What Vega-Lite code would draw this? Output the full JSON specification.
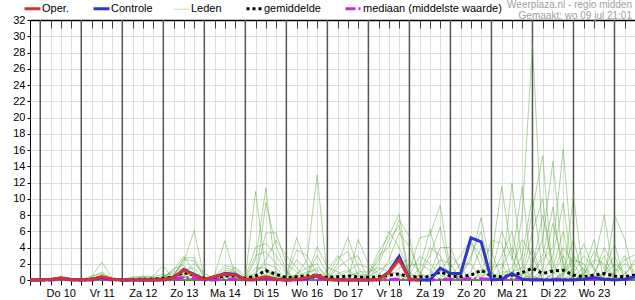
{
"$schema": "https://vega.github.io/schema/vega-lite/v6.json",
"width": 605, "height": 260,
"autosize": {"type": "none"},
"padding": {"left": 30, "top": 20, "right": 0, "bottom": 20},
"background": "white",
"config": {"font": "Liberation Sans", "view": {"stroke": null}},
"title": {"text": "Weerplaza.nl - regio midden", "subtitle": "Gemaakt: wo 09 jul 21:01", "anchor": "end", "frame": "group", "orient": "top", "fontSize": 10, "subtitleFontSize": 10, "lineHeight": 10, "subtitleLineHeight": 10, "color": "#a0a0a0", "subtitleColor": "#a0a0a0", "fontWeight": "normal", "font": "Liberation Sans", "subtitleFont": "Liberation Sans", "offset": -17.5, "subtitlePadding": 0.5, "dx": -3},
"datasets": {
"days": [{"t":6},{"t":30},{"t":54},{"t":78},{"t":102},{"t":126},{"t":150},{"t":174},{"t":198},{"t":222},{"t":246},{"t":270},{"t":294},{"t":318},{"t":342}],
"ens": [
{"t":0,"o":0,"c":0,"g":0.02,"md":0,"L1":0,"L2":0,"L3":0,"L4":0,"L5":0.1,"L6":0,"L7":0,"L8":0,"L9":0,"L10":0,"L11":0,"L12":0.1,"L13":0,"L14":0,"L15":0,"L16":0,"L17":0,"L18":0,"L19":0,"L20":0,"L21":0,"L22":0,"L23":0,"L24":0},
{"t":6,"o":0,"c":0,"g":0.02,"md":0,"L1":0,"L2":0,"L3":0.1,"L4":0,"L5":0,"L6":0,"L7":0,"L8":0,"L9":0,"L10":0,"L11":0,"L12":0,"L13":0,"L14":0,"L15":0,"L16":0,"L17":0.2,"L18":0,"L19":0,"L20":0,"L21":0,"L22":0,"L23":0,"L24":0},
{"t":12,"o":0.05,"c":0.05,"g":0.05,"md":0,"L1":0.1,"L2":0,"L3":0,"L4":0,"L5":0,"L6":0,"L7":0,"L8":0.2,"L9":0,"L10":0,"L11":0,"L12":0,"L13":0,"L14":0,"L15":0,"L16":0,"L17":0,"L18":0,"L19":0,"L20":0.1,"L21":0,"L22":0,"L23":0,"L24":0},
{"t":18,"o":0.25,"c":0.2,"g":0.15,"md":0.1,"L1":0.3,"L2":0.2,"L3":0,"L4":0,"L5":0,"L6":0.4,"L7":0,"L8":0,"L9":0.3,"L10":0,"L11":0,"L12":0,"L13":0,"L14":0.2,"L15":0,"L16":0,"L17":0,"L18":0,"L19":0.5,"L20":0,"L21":0,"L22":0.2,"L23":0,"L24":0},
{"t":24,"o":0.05,"c":0.05,"g":0.05,"md":0,"L1":0,"L2":0,"L3":0,"L4":0,"L5":0,"L6":0.1,"L7":0,"L8":0,"L9":0,"L10":0.1,"L11":0,"L12":0,"L13":0,"L14":0,"L15":0,"L16":0,"L17":0,"L18":0,"L19":0.2,"L20":0,"L21":0,"L22":0,"L23":0,"L24":0},
{"t":30,"o":0,"c":0,"g":0.02,"md":0,"L1":0,"L2":0,"L3":0,"L4":0,"L5":0,"L6":0,"L7":0,"L8":0,"L9":0,"L10":0,"L11":0.1,"L12":0,"L13":0,"L14":0,"L15":0,"L16":0,"L17":0,"L18":0,"L19":0,"L20":0,"L21":0,"L22":0,"L23":0,"L24":0},
{"t":36,"o":0.1,"c":0.1,"g":0.1,"md":0,"L1":0.4,"L2":0,"L3":0,"L4":0.3,"L5":0,"L6":0,"L7":0,"L8":0,"L9":0,"L10":0,"L11":0,"L12":0,"L13":0,"L14":0,"L15":0,"L16":0.5,"L17":0,"L18":0,"L19":0,"L20":0,"L21":0.2,"L22":0,"L23":0,"L24":0},
{"t":42,"o":0.4,"c":0.3,"g":0.3,"md":0.1,"L1":2.2,"L2":0.2,"L3":0,"L4":1,"L5":0,"L6":0,"L7":0.7,"L8":0,"L9":0.3,"L10":0,"L11":0,"L12":0,"L13":0.6,"L14":0,"L15":0,"L16":0.8,"L17":0,"L18":0,"L19":0,"L20":0,"L21":0.5,"L22":0,"L23":0,"L24":0.4},
{"t":48,"o":0.1,"c":0.1,"g":0.1,"md":0,"L1":0.3,"L2":0,"L3":0,"L4":0.2,"L5":0,"L6":0,"L7":0.2,"L8":0,"L9":0,"L10":0,"L11":0,"L12":0,"L13":0,"L14":0,"L15":0,"L16":0.1,"L17":0,"L18":0,"L19":0,"L20":0,"L21":0,"L22":0,"L23":0,"L24":0},
{"t":54,"o":0,"c":0,"g":0.02,"md":0,"L1":0,"L2":0,"L3":0,"L4":0,"L5":0,"L6":0,"L7":0,"L8":0,"L9":0,"L10":0,"L11":0,"L12":0,"L13":0,"L14":0,"L15":0,"L16":0,"L17":0,"L18":0.1,"L19":0,"L20":0,"L21":0,"L22":0,"L23":0,"L24":0},
{"t":60,"o":0,"c":0,"g":0.05,"md":0,"L1":0,"L2":0,"L3":0,"L4":0,"L5":0.2,"L6":0,"L7":0,"L8":0,"L9":0,"L10":0,"L11":0,"L12":0.3,"L13":0,"L14":0,"L15":0,"L16":0,"L17":0,"L18":0,"L19":0,"L20":0.4,"L21":0,"L22":0,"L23":0,"L24":0},
{"t":66,"o":0,"c":0,"g":0.1,"md":0,"L1":0,"L2":0,"L3":0,"L4":0,"L5":0,"L6":0,"L7":0,"L8":0,"L9":0,"L10":0,"L11":0,"L12":0.5,"L13":0,"L14":0,"L15":0.4,"L16":0,"L17":0,"L18":0,"L19":0,"L20":0.3,"L21":0,"L22":0,"L23":0.2,"L24":0},
{"t":72,"o":0,"c":0,"g":0.1,"md":0,"L1":0,"L2":0,"L3":0.4,"L4":0,"L5":0,"L6":0,"L7":0,"L8":0.2,"L9":0,"L10":0,"L11":0,"L12":0.3,"L13":0,"L14":0,"L15":0.5,"L16":0,"L17":0,"L18":0,"L19":0,"L20":0,"L21":0,"L22":0,"L23":0.3,"L24":0},
{"t":78,"o":0.05,"c":0.05,"g":0.2,"md":0,"L1":0,"L2":0,"L3":0.7,"L4":0,"L5":0,"L6":0,"L7":0,"L8":0.4,"L9":0,"L10":0,"L11":0,"L12":0,"L13":0.3,"L14":0,"L15":1.8,"L16":0,"L17":0,"L18":0.2,"L19":0,"L20":0,"L21":0,"L22":0.5,"L23":0,"L24":0},
{"t":84,"o":0.3,"c":0.3,"g":0.4,"md":0.05,"L1":0,"L2":0.5,"L3":0,"L4":0,"L5":0,"L6":0.4,"L7":0,"L8":0.8,"L9":0,"L10":0,"L11":0.6,"L12":0,"L13":1.2,"L14":0,"L15":0,"L16":0,"L17":0,"L18":1.4,"L19":0.3,"L20":0,"L21":0,"L22":1,"L23":0,"L24":0},
{"t":90,"o":1.2,"c":1.3,"g":0.9,"md":0.3,"L1":0.3,"L2":2.2,"L3":0.6,"L4":0,"L5":0,"L6":2.7,"L7":0,"L8":0,"L9":1,"L10":0,"L11":2.5,"L12":0,"L13":2.9,"L14":0.8,"L15":0.4,"L16":0,"L17":0,"L18":1.8,"L19":0,"L20":0.5,"L21":0,"L22":1.5,"L23":0,"L24":1.2},
{"t":96,"o":0.6,"c":0.7,"g":0.6,"md":0.2,"L1":0,"L2":6.1,"L3":0,"L4":0,"L5":0,"L6":2.8,"L7":0,"L8":0,"L9":2,"L10":0,"L11":2.4,"L12":0,"L13":1,"L14":0.4,"L15":0,"L16":0,"L17":0,"L18":0.3,"L19":0,"L20":0,"L21":0,"L22":0.5,"L23":0,"L24":1.5},
{"t":102,"o":0.05,"c":0.05,"g":0.2,"md":0,"L1":0,"L2":0.3,"L3":0,"L4":0,"L5":0.3,"L6":0.4,"L7":0,"L8":0,"L9":0.8,"L10":0,"L11":0.2,"L12":0,"L13":0,"L14":0,"L15":0,"L16":0,"L17":0,"L18":0,"L19":0,"L20":0,"L21":0,"L22":0,"L23":0,"L24":0},
{"t":108,"o":0.4,"c":0.4,"g":0.2,"md":0,"L1":0,"L2":0,"L3":0.6,"L4":0,"L5":0.5,"L6":0,"L7":0,"L8":0,"L9":0.2,"L10":0,"L11":0,"L12":0,"L13":0,"L14":0,"L15":0,"L16":0,"L17":0.3,"L18":0,"L19":0,"L20":0.2,"L21":0,"L22":0,"L23":0,"L24":0},
{"t":114,"o":0.7,"c":0.8,"g":0.5,"md":0.1,"L1":0,"L2":0,"L3":4.85,"L4":0,"L5":1.8,"L6":0,"L7":0.5,"L8":0,"L9":0,"L10":1.2,"L11":0,"L12":0,"L13":0,"L14":0.8,"L15":0,"L16":0,"L17":1.5,"L18":0,"L19":0,"L20":1,"L21":0,"L22":0,"L23":0.4,"L24":0},
{"t":120,"o":0.6,"c":0.7,"g":0.5,"md":0.05,"L1":0,"L2":0,"L3":0.6,"L4":0,"L5":1.5,"L6":0,"L7":0.3,"L8":0,"L9":0,"L10":1,"L11":0,"L12":0,"L13":0,"L14":0,"L15":0,"L16":0,"L17":1.2,"L18":0,"L19":0,"L20":0.8,"L21":0,"L22":0,"L23":1.6,"L24":0},
{"t":126,"o":0.05,"c":0.05,"g":0.2,"md":0,"L1":0.3,"L2":0,"L3":0,"L4":0,"L5":0.2,"L6":0,"L7":0,"L8":0,"L9":0,"L10":0,"L11":0,"L12":0.2,"L13":0,"L14":0,"L15":0,"L16":0.4,"L17":0,"L18":0,"L19":0,"L20":0,"L21":0,"L22":0,"L23":0.5,"L24":0},
{"t":132,"o":0.1,"c":0.1,"g":0.5,"md":0,"L1":10.9,"L2":0,"L3":2.5,"L4":0,"L5":0,"L6":0.6,"L7":0,"L8":1,"L9":0,"L10":0,"L11":0,"L12":3,"L13":0,"L14":0.5,"L15":0,"L16":4,"L17":0,"L18":0,"L19":1.5,"L20":0,"L21":0.8,"L22":0,"L23":0,"L24":0.4},
{"t":138,"o":0.4,"c":0.3,"g":1.15,"md":0.1,"L1":1,"L2":0,"L3":11.3,"L4":9.5,"L5":0,"L6":1.2,"L7":0,"L8":2,"L9":0,"L10":0.8,"L11":0,"L12":3.5,"L13":0,"L14":5.8,"L15":0,"L16":4.5,"L17":0.5,"L18":0,"L19":1.5,"L20":0,"L21":2.5,"L22":0,"L23":0,"L24":0.6},
{"t":144,"o":0.1,"c":0.1,"g":0.7,"md":0,"L1":0.8,"L2":0,"L3":0.4,"L4":4.2,"L5":0,"L6":1,"L7":0,"L8":1.5,"L9":0,"L10":0.5,"L11":0,"L12":2,"L13":0,"L14":5.8,"L15":0,"L16":3,"L17":0,"L18":0,"L19":0,"L20":0,"L21":4.9,"L22":0,"L23":0,"L24":0.3},
{"t":150,"o":0,"c":0,"g":0.3,"md":0,"L1":0,"L2":0,"L3":0,"L4":1.2,"L5":0,"L6":0,"L7":0,"L8":0,"L9":0.5,"L10":0,"L11":0.6,"L12":0.8,"L13":0,"L14":2,"L15":0,"L16":1,"L17":0,"L18":0,"L19":0,"L20":0,"L21":3,"L22":0.3,"L23":0,"L24":0},
{"t":156,"o":0.05,"c":0.05,"g":0.4,"md":0,"L1":0,"L2":0.6,"L3":0,"L4":0,"L5":0.5,"L6":0,"L7":0,"L8":0,"L9":3.7,"L10":0,"L11":5.2,"L12":0,"L13":0.4,"L14":1,"L15":0,"L16":0,"L17":0.8,"L18":0,"L19":0,"L20":0,"L21":1.5,"L22":2.5,"L23":0,"L24":0},
{"t":162,"o":0.3,"c":0.2,"g":0.5,"md":0.05,"L1":0,"L2":2.5,"L3":0,"L4":0,"L5":1,"L6":0,"L7":0.4,"L8":0,"L9":3,"L10":0,"L11":2,"L12":0,"L13":0.8,"L14":0,"L15":0,"L16":0,"L17":1.5,"L18":0,"L19":0,"L20":0.6,"L21":0,"L22":1.2,"L23":0,"L24":0},
{"t":168,"o":0.6,"c":0.5,"g":0.6,"md":0.1,"L1":0,"L2":12.9,"L3":0,"L4":0,"L5":1.2,"L6":0,"L7":4.1,"L8":0,"L9":0.8,"L10":0,"L11":0.5,"L12":0,"L13":1.5,"L14":0,"L15":0,"L16":0,"L17":2,"L18":0,"L19":0,"L20":3,"L21":0,"L22":0.4,"L23":0,"L24":0},
{"t":174,"o":0.05,"c":0.05,"g":0.3,"md":0.05,"L1":0,"L2":0.3,"L3":0,"L4":0,"L5":0,"L6":0,"L7":1.6,"L8":0,"L9":0,"L10":0,"L11":0,"L12":0,"L13":0.5,"L14":0,"L15":0,"L16":0,"L17":0,"L18":0.4,"L19":0,"L20":0.8,"L21":0,"L22":0,"L23":1.2,"L24":0},
{"t":180,"o":0,"c":0,"g":0.4,"md":0.05,"L1":0.8,"L2":0,"L3":0,"L4":0,"L5":0,"L6":0,"L7":1,"L8":0,"L9":0,"L10":0,"L11":2,"L12":0,"L13":0,"L14":0,"L15":1.5,"L16":0,"L17":0,"L18":2.7,"L19":0,"L20":0,"L21":0,"L22":0,"L23":3,"L24":0.5},
{"t":186,"o":0,"c":0,"g":0.5,"md":0.05,"L1":1.2,"L2":0,"L3":0,"L4":0,"L5":0,"L6":0.6,"L7":0,"L8":0,"L9":0,"L10":0,"L11":5.25,"L12":0,"L13":0,"L14":0,"L15":2.5,"L16":0,"L17":0,"L18":3.5,"L19":0.4,"L20":0,"L21":0,"L22":0,"L23":1.5,"L24":1},
{"t":192,"o":0,"c":0,"g":0.4,"md":0.05,"L1":0,"L2":0,"L3":0.4,"L4":0,"L5":0,"L6":0.8,"L7":0,"L8":0,"L9":0,"L10":0,"L11":1.5,"L12":5,"L13":0,"L14":0,"L15":3,"L16":0,"L17":0,"L18":0.6,"L19":1,"L20":0,"L21":0,"L22":0,"L23":0,"L24":2},
{"t":198,"o":0,"c":0,"g":0.3,"md":0,"L1":0,"L2":0,"L3":0,"L4":0,"L5":0.8,"L6":0.5,"L7":0,"L8":0.4,"L9":0,"L10":0,"L11":0,"L12":2,"L13":0.6,"L14":0,"L15":0,"L16":0,"L17":0,"L18":0,"L19":1,"L20":0,"L21":0,"L22":0,"L23":0,"L24":1.5},
{"t":204,"o":0.1,"c":0.1,"g":0.4,"md":0,"L1":0,"L2":0,"L3":0,"L4":0,"L5":3.5,"L6":3,"L7":2,"L8":1.2,"L9":0,"L10":0,"L11":0,"L12":0.8,"L13":2.5,"L14":0,"L15":0,"L16":0.5,"L17":0,"L18":0,"L19":1.5,"L20":0,"L21":0,"L22":0,"L23":0,"L24":0.6},
{"t":210,"o":0.9,"c":1,"g":0.6,"md":0.05,"L1":0,"L2":0,"L3":0,"L4":0,"L5":5.5,"L6":4,"L7":5,"L8":2,"L9":0,"L10":0.4,"L11":0,"L12":0,"L13":6,"L14":0,"L15":0,"L16":2.5,"L17":0,"L18":0,"L19":1,"L20":0,"L21":0,"L22":0.6,"L23":0,"L24":0},
{"t":216,"o":2.5,"c":2.9,"g":0.75,"md":0.1,"L1":0.5,"L2":0,"L3":0,"L4":0,"L5":8.1,"L6":7.4,"L7":6.7,"L8":3,"L9":0,"L10":1.5,"L11":0,"L12":0,"L13":4,"L14":0,"L15":0,"L16":5.8,"L17":0,"L18":0,"L19":0.8,"L20":0,"L21":0,"L22":2,"L23":0,"L24":0},
{"t":222,"o":0.1,"c":0.1,"g":0.4,"md":0,"L1":0.4,"L2":0,"L3":0,"L4":1.2,"L5":0,"L6":5.3,"L7":0,"L8":0.8,"L9":0,"L10":1.8,"L11":0,"L12":0,"L13":1,"L14":0,"L15":0,"L16":4.1,"L17":0,"L18":0,"L19":0,"L20":0.6,"L21":0,"L22":2.5,"L23":0,"L24":0},
{"t":228,"o":0,"c":0,"g":0.4,"md":0,"L1":0,"L2":0.5,"L3":0,"L4":5.2,"L5":0,"L6":0,"L7":0,"L8":0,"L9":0.6,"L10":2,"L11":0,"L12":0,"L13":0,"L14":1.5,"L15":0,"L16":0.8,"L17":0,"L18":0,"L19":0,"L20":2.9,"L21":0,"L22":1,"L23":0,"L24":0},
{"t":234,"c":0,"g":0.4,"md":0,"L1":0,"L2":3,"L3":0,"L4":5.5,"L5":0,"L6":0,"L7":0,"L8":0,"L9":4,"L10":1.2,"L11":0,"L12":0,"L13":0,"L14":6.2,"L15":0,"L16":0,"L17":0.8,"L18":0,"L19":0,"L20":2,"L21":0,"L22":0,"L23":0.5,"L24":0},
{"t":240,"c":1.45,"g":1,"md":0.05,"L1":0,"L2":6.5,"L3":0,"L4":9.2,"L5":0,"L6":0,"L7":0,"L8":0,"L9":3,"L10":0,"L11":1,"L12":0,"L13":0,"L14":1.5,"L15":0,"L16":0,"L17":4,"L18":0,"L19":0,"L20":0.6,"L21":0,"L22":0,"L23":2.5,"L24":0},
{"t":246,"c":0.8,"g":0.5,"md":0.05,"L1":0,"L2":0.8,"L3":0,"L4":1,"L5":0,"L6":0,"L7":0,"L8":0,"L9":0,"L10":0,"L11":3,"L12":0,"L13":0,"L14":0,"L15":1.5,"L16":0,"L17":4,"L18":0,"L19":0,"L20":0,"L21":0.5,"L22":0,"L23":2,"L24":0},
{"t":252,"c":0.8,"g":0.4,"md":0.1,"L1":0,"L2":0,"L3":0.8,"L4":0,"L5":0,"L6":0,"L7":0,"L8":0,"L9":0,"L10":0,"L11":1.5,"L12":0.5,"L13":0,"L14":0,"L15":3,"L16":0,"L17":1,"L18":0,"L19":0,"L20":0,"L21":2,"L22":0,"L23":0,"L24":0.6},
{"t":258,"c":5.2,"g":0.6,"md":0.15,"L1":0.6,"L2":0,"L3":4.5,"L4":0,"L5":0,"L6":0,"L7":0,"L8":0,"L9":0,"L10":0,"L11":0,"L12":2.5,"L13":0,"L14":0,"L15":5,"L16":0,"L17":0,"L18":1,"L19":0,"L20":0,"L21":2,"L22":0,"L23":0,"L24":3},
{"t":264,"c":4.7,"g":1.2,"md":0.15,"L1":1.2,"L2":0,"L3":3,"L4":0,"L5":0,"L6":0,"L7":0,"L8":0,"L9":0,"L10":0.5,"L11":0,"L12":7.7,"L13":0,"L14":0,"L15":1.5,"L16":0,"L17":0,"L18":4,"L19":0.8,"L20":0,"L21":0,"L22":0,"L23":0,"L24":6},
{"t":270,"c":0,"g":0.5,"md":0.05,"L1":1.5,"L2":0,"L3":0,"L4":0,"L5":0,"L6":0,"L7":0,"L8":2.5,"L9":0,"L10":0.8,"L11":0,"L12":1,"L13":0,"L14":0,"L15":0,"L16":0,"L17":0,"L18":3.5,"L19":4.9,"L20":0.5,"L21":0,"L22":0,"L23":0,"L24":0},
{"t":276,"c":0.1,"g":0.4,"md":0.05,"L1":2,"L2":0,"L3":0,"L4":0,"L5":0,"L6":1,"L7":0,"L8":11.5,"L9":0,"L10":6,"L11":0,"L12":0,"L13":1.5,"L14":0,"L15":0,"L16":0,"L17":0,"L18":0,"L19":4.5,"L20":3,"L21":0,"L22":0.6,"L23":0,"L24":0},
{"t":282,"c":0.8,"g":0.6,"md":0.05,"L1":0,"L2":0,"L3":0,"L4":0,"L5":0,"L6":1,"L7":0,"L8":3,"L9":11.9,"L10":2.5,"L11":0,"L12":0,"L13":4,"L14":0,"L15":0,"L16":0.8,"L17":0,"L18":0,"L19":0,"L20":6,"L21":0,"L22":1.5,"L23":0,"L24":0},
{"t":288,"c":0.1,"g":0.9,"md":0.05,"L1":8,"L2":0,"L3":0,"L4":0,"L5":0,"L6":1.5,"L7":0,"L8":0,"L9":2,"L10":11.5,"L11":0,"L12":0,"L13":1,"L14":0,"L15":0,"L16":3,"L17":0,"L18":0,"L19":0,"L20":0,"L21":0.8,"L22":5,"L23":0,"L24":0.6},
{"t":294,"c":0,"g":1.45,"md":0.1,"L1":29,"L2":0,"L3":0,"L4":0,"L5":0.8,"L6":8.6,"L7":2,"L8":0,"L9":0,"L10":0,"L11":1.5,"L12":0,"L13":0,"L14":1,"L15":0,"L16":10.3,"L17":0,"L18":0.5,"L19":0,"L20":0,"L21":6,"L22":3,"L23":0,"L24":4},
{"t":300,"c":0,"g":0.8,"md":0.05,"L1":4,"L2":0,"L3":0.6,"L4":0,"L5":2.5,"L6":15.3,"L7":5,"L8":0,"L9":0,"L10":0,"L11":8,"L12":0,"L13":0,"L14":3,"L15":0,"L16":1,"L17":0.8,"L18":0,"L19":0,"L20":0,"L21":10,"L22":0,"L23":1.5,"L24":0},
{"t":306,"c":0,"g":1.1,"md":0.1,"L1":1,"L2":0,"L3":1.5,"L4":0,"L5":4,"L6":0,"L7":14.6,"L8":0,"L9":0,"L10":0,"L11":2,"L12":0,"L13":0,"L14":9,"L15":0.8,"L16":0,"L17":3,"L18":0,"L19":0,"L20":0.6,"L21":0,"L22":0,"L23":7,"L24":0},
{"t":312,"c":0,"g":1.2,"md":0.1,"L1":0,"L2":0,"L3":6,"L4":0.8,"L5":16.1,"L6":0,"L7":1.5,"L8":0,"L9":0,"L10":0,"L11":0,"L12":1,"L13":0,"L14":0,"L15":4,"L16":0,"L17":9.5,"L18":0,"L19":0.6,"L20":3,"L21":0,"L22":0,"L23":2,"L24":0},
{"t":318,"c":0,"g":0.6,"md":0.05,"L1":0,"L2":1.5,"L3":0,"L4":3,"L5":1,"L6":0,"L7":0,"L8":0,"L9":0,"L10":10.4,"L11":0,"L12":5,"L13":0.8,"L14":0,"L15":2,"L16":0,"L17":0,"L18":0,"L19":2.5,"L20":0,"L21":0,"L22":0,"L23":0,"L24":0.5},
{"t":324,"c":0.1,"g":0.4,"md":0.05,"L1":0,"L2":4.5,"L3":0,"L4":1.2,"L5":0,"L6":0,"L7":0,"L8":0.5,"L9":1,"L10":0,"L11":0.8,"L12":0,"L13":3,"L14":0,"L15":0,"L16":0,"L17":0,"L18":0.6,"L19":2,"L20":0,"L21":0,"L22":0,"L23":0,"L24":1.5},
{"t":330,"c":0.3,"g":0.6,"md":0.05,"L1":0,"L2":1.2,"L3":0,"L4":0,"L5":0,"L6":0,"L7":0,"L8":2,"L9":5,"L10":0,"L11":2.5,"L12":0,"L13":1.5,"L14":0,"L15":0,"L16":0,"L17":0,"L18":3.5,"L19":0,"L20":0.8,"L21":0,"L22":0.6,"L23":0,"L24":0},
{"t":336,"c":0.1,"g":0.8,"md":0.1,"L1":0,"L2":0,"L3":0.8,"L4":0,"L5":0,"L6":0,"L7":0,"L8":8,"L9":0,"L10":0,"L11":2,"L12":0,"L13":0,"L14":1,"L15":0,"L16":0.6,"L17":0,"L18":1.5,"L19":0,"L20":3,"L21":0,"L22":4,"L23":0,"L24":0},
{"t":342,"c":0,"g":0.5,"md":0.05,"L1":0,"L2":0,"L3":3,"L4":0,"L5":0,"L6":1,"L7":0,"L8":0,"L9":8,"L10":0,"L11":0,"L12":0.6,"L13":0,"L14":4.5,"L15":0,"L16":2,"L17":0,"L18":0,"L19":0,"L20":0,"L21":0.8,"L22":1.5,"L23":0,"L24":0},
{"t":348,"c":0.1,"g":0.4,"md":0.05,"L1":0,"L2":0,"L3":0,"L4":0,"L5":0,"L6":3,"L7":0.6,"L8":0,"L9":5,"L10":0,"L11":0,"L12":2,"L13":0,"L14":0,"L15":0,"L16":1,"L17":0,"L18":0,"L19":0,"L20":0,"L21":2.5,"L22":0,"L23":0,"L24":0.8},
{"t":354,"c":0.4,"g":0.6,"md":0.2,"L1":0.8,"L2":0,"L3":0,"L4":0,"L5":0,"L6":0,"L7":2.5,"L8":0,"L9":0,"L10":0,"L11":0,"L12":1,"L13":0,"L14":0,"L15":0,"L16":0,"L17":0.6,"L18":0,"L19":0,"L20":0,"L21":3.1,"L22":0,"L23":0,"L24":2}
]
},
"layer": [
{
"data": {"name": "days"},
"mark": {"type": "rule", "color": "#555555", "strokeWidth": 1.5},
"encoding": {
"x": {"field": "t", "type": "quantitative", "scale": {"domain": [0, 354], "nice": false, "zero": false},
"axis": {"orient": "top", "values": [0,6,12,18,24,30,36,42,48,54,60,66,72,78,84,90,96,102,108,114,120,126,132,138,144,150,156,162,168,174,180,186,192,198,204,210,216,222,228,234,240,246,252,258,264,270,276,282,288,294,300,306,312,318,324,330,336,342,348,354], "grid": false, "labels": false, "ticks": true, "tickSize": -8, "tickColor": "#444444", "domainColor": "#000000", "domainWidth": 1.5, "title": null}}
}
},
{
"data": {"name": "ens"},
"transform": [{"fold": ["L1","L2","L3","L4","L5","L6","L7","L8","L9","L10","L11","L12","L13","L14","L15","L16","L17","L18","L19","L20","L21","L22","L23","L24"], "as": ["mem", "v"]}],
"mark": {"type": "line", "color": "#4ea52c", "opacity": 0.45, "strokeWidth": 1},
"encoding": {
"x": {"field": "t", "type": "quantitative", "scale": {"domain": [0, 354], "nice": false, "zero": false},
"axis": {"orient": "bottom", "values": [0,6,12,18,24,30,36,42,48,54,60,66,72,78,84,90,96,102,108,114,120,126,132,138,144,150,156,162,168,174,180,186,192,198,204,210,216,222,228,234,240,246,252,258,264,270,276,282,288,294,300,306,312,318,324,330,336,342,348,354], "grid": true, "gridColor": "#dddddd", "gridWidth": 1, "domainColor": "#000000", "tickColor": "#000000", "tickSize": 5, "labelExpr": "(datum.value - 18) % 24 == 0 ? ['Do 10','Vr 11','Za 12','Zo 13','Ma 14','Di 15','Wo 16','Do 17','Vr 18','Za 19','Zo 20','Ma 21','Di 22','Wo 23'][(datum.value - 18) / 24] : ''", "labelFontSize": 11, "labelFont": "Liberation Sans", "labelColor": "#000000", "labelPadding": 2, "labelOverlap": false, "labelFlush": false, "labelBound": false, "title": null}},
"y": {"field": "v", "type": "quantitative", "scale": {"domain": [0, 32], "nice": false},
"axis": {"values": [0,2,4,6,8,10,12,14,16,18,20,22,24,26,28,30,32], "grid": true, "gridColor": "#dddddd", "gridWidth": 1, "domainColor": "#000000", "tickColor": "#000000", "tickSize": 3, "labelFontSize": 11, "labelFont": "Liberation Sans", "labelColor": "#000000", "labelPadding": 2, "labelOverlap": false, "title": null}},
"detail": {"field": "mem"}
}
},
{
"data": {"name": "ens"},
"mark": {"type": "line", "strokeWidth": 3, "strokeDash": [3, 3]},
"encoding": {
"x": {"field": "t", "type": "quantitative", "axis": null},
"y": {"field": "g", "type": "quantitative",
"axis": {"values": [0,2,4,6,8,10,12,14,16,18,20,22,24,26,28,30,32], "grid": true, "gridColor": "#dddddd", "gridWidth": 1, "domainColor": "#000000", "tickColor": "#000000", "tickSize": 3, "labelFontSize": 11, "labelFont": "Liberation Sans", "labelColor": "#000000", "labelPadding": 2, "labelOverlap": false, "title": null}},
"color": {"datum": "gemiddelde", "type": "nominal", "scale": {"domain": ["Oper.", "Controle", "Leden", "gemiddelde", "mediaan (middelste waarde)"], "range": ["#d63232", "#2f36cc", "#b7dba8", "#000000", "#cc22ee"]},
"legend": {"title": null, "orient": "none", "legendX": -3, "legendY": -17, "direction": "horizontal", "symbolType": "stroke", "symbolSize": 256, "symbolStrokeWidth": 3, "labelFontSize": 11, "labelFont": "Liberation Sans", "labelColor": "#000000", "columnPadding": 18, "labelOffset": 4,
"encode": {"symbols": {"update": {"strokeWidth": {"signal": "datum.value === 'Leden' ? 1 : 3"}, "strokeDash": {"signal": "datum.value === 'gemiddelde' ? [3,3] : (datum.value === 'mediaan (middelste waarde)' ? [10,3,2,3] : [1,0])"}}}}}}
}
},
{
"data": {"name": "ens"},
"mark": {"type": "line", "strokeWidth": 3, "strokeDash": [10, 3, 2, 3]},
"encoding": {
"x": {"field": "t", "type": "quantitative", "axis": null},
"y": {"field": "md", "type": "quantitative",
"axis": {"values": [0,2,4,6,8,10,12,14,16,18,20,22,24,26,28,30,32], "grid": true, "gridColor": "#dddddd", "gridWidth": 1, "domainColor": "#000000", "tickColor": "#000000", "tickSize": 3, "labelFontSize": 11, "labelFont": "Liberation Sans", "labelColor": "#000000", "labelPadding": 2, "labelOverlap": false, "title": null}},
"color": {"datum": "mediaan (middelste waarde)", "type": "nominal"}
}
},
{
"data": {"name": "ens"},
"mark": {"type": "line", "strokeWidth": 3},
"encoding": {
"x": {"field": "t", "type": "quantitative", "axis": null},
"y": {"field": "c", "type": "quantitative",
"axis": {"values": [0,2,4,6,8,10,12,14,16,18,20,22,24,26,28,30,32], "grid": true, "gridColor": "#dddddd", "gridWidth": 1, "domainColor": "#000000", "tickColor": "#000000", "tickSize": 3, "labelFontSize": 11, "labelFont": "Liberation Sans", "labelColor": "#000000", "labelPadding": 2, "labelOverlap": false, "title": null}},
"color": {"datum": "Controle", "type": "nominal"}
}
},
{
"data": {"name": "ens"},
"mark": {"type": "line", "strokeWidth": 3},
"encoding": {
"x": {"field": "t", "type": "quantitative", "axis": null},
"y": {"field": "o", "type": "quantitative",
"axis": {"values": [0,2,4,6,8,10,12,14,16,18,20,22,24,26,28,30,32], "grid": true, "gridColor": "#dddddd", "gridWidth": 1, "domainColor": "#000000", "tickColor": "#000000", "tickSize": 3, "labelFontSize": 11, "labelFont": "Liberation Sans", "labelColor": "#000000", "labelPadding": 2, "labelOverlap": false, "title": null}},
"color": {"datum": "Oper.", "type": "nominal"}
}
}
],
"resolve": {"axis": {"x": "independent", "y": "shared"}}
}
